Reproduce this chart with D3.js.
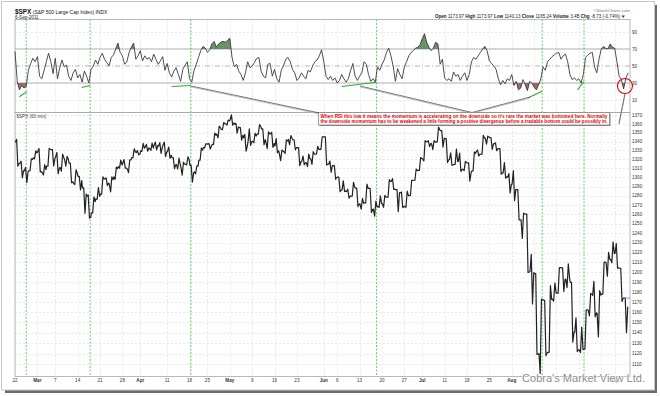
<!DOCTYPE html>
<html>
<head>
<meta charset="utf-8">
<script src="https://cdnjs.cloudflare.com/ajax/libs/d3/7.8.5/d3.min.js"></script>
<style>
body { margin: 0; background: #fff; }
svg { display: block; font-family: "Liberation Sans", Arial, sans-serif; }
</style>
</head>
<body>
<svg id="chart" width="660" height="396"></svg>
<script>
// daily OHLC of $SPX, one entry per trading day from 22-Feb-2011 to 6-Sep-2011
var priceOpen = [1338.91, 1315.44, 1307.09, 1307.34, 1321.61, 1328.64, 1305.47, 1312.37, 1330.73, 1322.72,
    1311.05, 1319.92, 1315.72, 1293.43, 1301.19, 1288.46, 1279.46, 1261.61, 1276.71, 1281.65,
    1298.29, 1292.19, 1300.61, 1311.80, 1315.45, 1309.37, 1321.89, 1327.44, 1329.48, 1333.56,
    1332.03, 1335.94, 1334.82, 1336.16, 1329.01, 1321.96, 1314.03, 1311.13, 1314.54, 1313.35,
    1305.99, 1319.12, 1333.23, 1337.14, 1336.75, 1348.43, 1353.86, 1360.14, 1365.21, 1359.76,
    1355.90, 1344.16, 1340.24, 1340.20, 1348.34, 1354.51, 1339.39, 1348.69, 1334.77, 1326.10,
    1328.54, 1342.40, 1342.00, 1333.07, 1317.70, 1316.36, 1320.64, 1325.69, 1331.10, 1345.20,
    1314.55, 1312.94, 1300.26, 1286.31, 1284.63, 1279.63, 1288.26, 1271.31, 1272.22, 1287.87,
    1265.53, 1268.58, 1271.50, 1278.40, 1295.48, 1286.60, 1283.04, 1268.44, 1280.21, 1296.85,
    1307.64, 1320.64, 1339.59, 1337.56, 1339.62, 1352.39, 1343.31, 1319.61, 1314.45, 1317.74,
    1308.87, 1315.94, 1307.07, 1328.66, 1325.65, 1343.80, 1344.32, 1337.39, 1331.91, 1304.84,
    1300.12, 1292.59, 1286.56, 1254.25, 1260.23, 1200.28, 1198.48, 1120.23, 1171.77, 1121.30,
    1172.87, 1178.86, 1204.22, 1192.89, 1189.62, 1140.47, 1123.55, 1124.36, 1162.16, 1176.69,
    1158.85, 1177.91, 1209.76, 1213.00, 1219.12, 1203.90, 1173.97];
var priceHigh = [1342.50, 1317.91, 1310.91, 1320.61, 1329.38, 1332.09, 1314.19, 1332.28, 1331.08, 1327.68,
    1325.74, 1323.21, 1315.72, 1308.35, 1301.19, 1288.46, 1280.91, 1278.88, 1288.88, 1300.58,
    1299.35, 1300.51, 1311.34, 1319.18, 1319.74, 1319.45, 1331.74, 1329.77, 1337.85, 1336.74,
    1338.21, 1339.46, 1338.80, 1339.46, 1333.77, 1321.96, 1321.35, 1316.79, 1322.88, 1313.35,
    1312.70, 1332.66, 1337.49, 1337.55, 1349.55, 1357.49, 1361.71, 1364.56, 1370.58, 1360.84,
    1355.90, 1348.00, 1354.36, 1349.44, 1359.44, 1354.51, 1351.05, 1350.47, 1343.33, 1330.42,
    1341.82, 1346.82, 1342.00, 1333.07, 1323.72, 1325.86, 1328.51, 1334.62, 1345.20, 1345.20,
    1318.03, 1312.94, 1300.26, 1296.22, 1287.04, 1294.54, 1288.26, 1277.04, 1292.50, 1287.87,
    1274.11, 1279.82, 1280.42, 1297.62, 1298.61, 1286.60, 1283.93, 1284.91, 1296.80, 1309.21,
    1321.97, 1341.01, 1340.89, 1340.94, 1356.48, 1352.39, 1343.31, 1327.17, 1331.48, 1326.88,
    1317.70, 1315.94, 1328.14, 1330.43, 1347.00, 1346.10, 1344.32, 1338.51, 1331.91, 1316.32,
    1304.16, 1307.38, 1286.58, 1261.20, 1260.23, 1218.11, 1198.48, 1172.88, 1171.77, 1186.29,
    1189.04, 1204.49, 1204.22, 1208.47, 1189.62, 1154.54, 1145.49, 1162.35, 1178.56, 1190.68,
    1181.23, 1210.28, 1220.10, 1230.71, 1229.29, 1203.90, 1173.97];
var priceLow = [1312.33, 1299.55, 1294.26, 1307.34, 1320.55, 1306.14, 1302.58, 1312.37, 1312.59, 1303.99,
    1306.86, 1312.27, 1294.21, 1291.99, 1286.37, 1261.12, 1256.00, 1261.61, 1276.18, 1281.65,
    1291.01, 1284.05, 1297.74, 1310.15, 1310.19, 1305.26, 1321.89, 1325.03, 1328.89, 1329.10,
    1330.03, 1330.67, 1326.56, 1322.94, 1321.06, 1309.51, 1309.19, 1302.42, 1313.68, 1294.70,
    1303.97, 1319.12, 1332.76, 1331.47, 1336.75, 1344.25, 1353.60, 1358.69, 1358.59, 1349.52,
    1341.50, 1329.17, 1335.58, 1338.64, 1348.34, 1336.36, 1332.03, 1333.36, 1327.32, 1318.51,
    1326.59, 1336.36, 1330.67, 1312.88, 1313.87, 1311.80, 1314.41, 1325.69, 1331.10, 1313.71,
    1305.61, 1297.90, 1284.48, 1284.74, 1277.42, 1279.63, 1268.28, 1265.64, 1272.22, 1261.90,
    1258.07, 1267.40, 1267.56, 1278.40, 1286.79, 1262.87, 1267.24, 1267.53, 1280.21, 1296.85,
    1307.64, 1318.18, 1334.30, 1330.92, 1339.62, 1333.71, 1316.42, 1313.33, 1314.45, 1306.51,
    1307.52, 1295.92, 1307.07, 1323.65, 1325.65, 1336.95, 1331.09, 1329.59, 1303.49, 1299.16,
    1282.86, 1274.73, 1254.03, 1234.56, 1199.54, 1168.09, 1119.28, 1101.54, 1118.01, 1121.30,
    1170.74, 1178.86, 1180.53, 1184.36, 1131.03, 1122.05, 1121.09, 1124.36, 1156.30, 1155.47,
    1135.91, 1177.91, 1195.77, 1209.35, 1203.85, 1170.56, 1140.13];
var priceClose = [1315.44, 1307.40, 1306.10, 1319.88, 1327.22, 1306.33, 1308.44, 1330.97, 1321.15, 1310.13,
    1321.82, 1320.02, 1295.11, 1304.28, 1296.39, 1281.87, 1256.88, 1273.72, 1279.21, 1298.38,
    1293.77, 1297.54, 1309.66, 1313.80, 1310.19, 1319.44, 1328.26, 1325.83, 1332.41, 1332.87,
    1332.63, 1335.54, 1333.51, 1328.17, 1324.46, 1314.16, 1314.41, 1314.52, 1319.68, 1305.14,
    1312.62, 1330.36, 1337.38, 1335.25, 1347.24, 1355.66, 1360.48, 1363.61, 1361.22, 1356.62,
    1347.32, 1335.10, 1340.20, 1346.29, 1357.16, 1342.08, 1348.65, 1337.77, 1329.47, 1328.98,
    1340.68, 1343.60, 1333.27, 1317.37, 1316.28, 1320.47, 1325.69, 1331.10, 1345.20, 1314.55,
    1312.94, 1300.16, 1286.17, 1284.94, 1279.56, 1289.00, 1270.98, 1271.83, 1287.87, 1265.42,
    1267.64, 1271.50, 1278.36, 1295.52, 1287.14, 1283.50, 1268.45, 1280.10, 1296.67, 1307.41,
    1320.64, 1339.67, 1337.88, 1339.22, 1353.22, 1343.80, 1319.49, 1313.64, 1317.72, 1308.87,
    1316.14, 1305.44, 1326.73, 1325.84, 1343.80, 1345.02, 1337.43, 1331.94, 1304.89, 1300.67,
    1292.28, 1286.94, 1254.05, 1260.34, 1200.07, 1199.38, 1119.46, 1172.53, 1120.76, 1172.64,
    1178.81, 1204.49, 1192.76, 1193.89, 1140.65, 1123.53, 1123.82, 1162.35, 1177.60, 1159.27,
    1176.80, 1210.08, 1212.92, 1218.89, 1204.42, 1173.97, 1165.24];

// RSI(14), two readings per trading day
var rsiValues = [67, 32, 22, 27, 24, 26, 45, 53, 59, 55, 61, 38, 35, 45, 55, 65, 55, 41, 59, 35,
    48, 57, 49, 51, 38, 33, 42, 46, 36, 40, 31, 44, 38, 30, 46, 50, 57, 52, 60, 65,
    58, 54, 50, 60, 63, 70, 77, 66, 62, 52, 55, 66, 72, 77, 58, 62, 68, 56, 62, 58,
    60, 55, 64, 58, 52, 56, 61, 45, 53, 42, 37, 44, 48, 40, 32, 46, 51, 55, 35, 31,
    45, 52, 60, 68, 73, 71, 66, 69, 76, 79, 72, 76, 78, 79, 78, 80, 83, 60, 49, 52,
    44, 40, 33, 42, 55, 48, 50, 54, 59, 60, 44, 38, 36, 52, 53, 38, 46, 35, 31, 45,
    50, 58, 60, 55, 46, 42, 33, 36, 42, 38, 35, 45, 43, 50, 55, 57, 62, 69, 55, 38,
    34, 38, 33, 36, 30, 33, 40, 35, 31, 35, 45, 53, 38, 33, 38, 42, 55, 52, 40, 32,
    35, 31, 49, 45, 52, 57, 66, 71, 62, 50, 32, 47, 40, 35, 49, 55, 62, 66, 68, 71,
    72, 75, 82, 88, 78, 72, 68, 71, 78, 76, 52, 58, 36, 33, 35, 32, 43, 38, 40, 33,
    38, 42, 33, 40, 55, 60, 58, 62, 66, 70, 73, 68, 56, 53, 50, 46, 35, 28, 33, 29,
    35, 33, 40, 27, 32, 22, 24, 34, 28, 21, 32, 30, 25, 22, 28, 35, 49, 45, 55, 58,
    61, 63, 65, 66, 58, 62, 64, 55, 40, 34, 36, 33, 35, 30, 40, 60, 63, 65, 66, 49,
    42, 58, 70, 73, 71, 70, 76, 72, 71, 55, 38, 34, 23, 36, 42];

var holidays = ["2011-04-22", "2011-05-30", "2011-07-04", "2011-09-05"];

var tickDates = ["2011-02-22", "2011-03-01", "2011-03-07", "2011-03-14", "2011-03-21", "2011-03-28",
    "2011-04-01", "2011-04-11", "2011-04-18", "2011-04-25", "2011-05-02", "2011-05-09", "2011-05-16",
    "2011-05-23", "2011-06-01", "2011-06-06", "2011-06-13", "2011-06-20", "2011-06-27", "2011-07-01",
    "2011-07-11", "2011-07-18", "2011-07-25", "2011-08-01", "2011-08-08", "2011-08-15", "2011-08-22",
    "2011-08-29", "2011-09-01"];
// the August week labels sit under the watermark in the original, so they stay blank
var tickLabels = ["22", "Mar", "7", "14", "21", "28", "Apr", "11", "18", "25", "May", "9", "16", "23",
    "Jun", "6", "13", "20", "27", "Jul", "11", "18", "25", "Aug", "", "", "", "", "Sep"];

var priceTicks = d3.range(1110, 1371, 10);
var rsiTicks = [10, 30, 50, 70, 90];

// green dashed marker lines (trading-day index)
var markerDays = [2.5, 16.8, 39.3, 80.8, 117.8, 127.15];
// divergence segments drawn on the RSI panel: [day, rsi, day, rsi]
var divergences = [[0.97, 13.9, 2.61, 19.8], [14.9, 24.6, 16.76, 27.1], [35.0, 25.8, 39.26, 27.1],
    [73.0, 25.8, 80.8, 30.8], [114.7, 12.6, 117.8, 20.4], [125.7, 21.8, 127.1, 31.6]];

var noteLines = ["When RSI this low it means the momentum is accelerating on the downside so it's rare the market was bottomed here. Normally",
    "the downside momentum has to be weakened a little forming a positive divergence before a tradable bottom could be possibly in."];

var quote = [["Open", "1173.97"], ["High", "1173.97"], ["Low", "1140.13"], ["Close", "1165.24"],
    ["Volume", "3.4B"], ["Chg", "-8.73 (-0.74%)"]];

// ------------------------------------------------------------------

var fmt = d3.timeFormat("%Y-%m-%d");
var days = d3.timeDay.range(new Date(2011, 1, 22), new Date(2011, 8, 7))
    .filter(function (d) { return d.getDay() % 6 !== 0 && holidays.indexOf(fmt(d)) < 0; });
var dayIndex = {};
days.forEach(function (d, i) { dayIndex[fmt(d)] = i; });

var left = 15, right = 630;
var rsiTop = 19.5, rsiBottom = 112.5, priceTop = 112.5, priceBottom = 376.5;

var x = d3.scaleLinear().domain([0, days.length]).range([left, 628.1]);
var yR = d3.scaleLinear().domain([0, 100]).range([108.5, 23.5]);
var yP = d3.scaleLog().domain([1110, 1360]).range([364.3, 124]);

var svg = d3.select("#chart");

// frame with drop shadow
svg.append("rect").attr("x", 5).attr("y", 5).attr("width", 652).attr("height", 388).attr("fill", "#6a6a6a");
svg.append("rect").attr("x", 1.5).attr("y", 1.5).attr("width", 653).attr("height", 388.5)
    .attr("fill", "#fff").attr("stroke", "#c8c8c8");

// vertical grid
var grid = svg.append("g").attr("stroke", "#d9d9d9").attr("stroke-width", 0.6).attr("stroke-dasharray", "2,2");
tickDates.forEach(function (t) {
    var xx = Math.round(x(dayIndex[t])) + 0.5;
    grid.append("line").attr("x1", xx).attr("x2", xx).attr("y1", rsiTop).attr("y2", priceBottom);
});
priceTicks.forEach(function (p) {
    var yy = Math.round(yP(p)) + 0.5;
    grid.append("line").attr("x1", left).attr("x2", right).attr("y1", yy).attr("y2", yy);
});
[10, 90].forEach(function (v) {
    var yy = Math.round(yR(v)) + 0.5;
    grid.append("line").attr("x1", left).attr("x2", right).attr("y1", yy).attr("y2", yy);
});

// RSI reference lines
[30, 70].forEach(function (v) {
    svg.append("line").attr("x1", left).attr("x2", right).attr("y1", yR(v)).attr("y2", yR(v))
        .attr("stroke", "#9a9a9a").attr("stroke-width", 0.8);
});
svg.append("line").attr("x1", left).attr("x2", right).attr("y1", yR(50)).attr("y2", yR(50))
    .attr("stroke", "#9a9a9a").attr("stroke-width", 0.7).attr("stroke-dasharray", "5,2,1,2");

// green marker lines
markerDays.forEach(function (d) {
    svg.append("line").attr("x1", x(d)).attr("x2", x(d)).attr("y1", rsiTop).attr("y2", priceBottom)
        .attr("stroke", "#3fbf3f").attr("stroke-width", 0.8).attr("stroke-dasharray", "2,1.5");
});

// panel borders
svg.append("rect").attr("x", left).attr("y", rsiTop).attr("width", right - left).attr("height", rsiBottom - rsiTop)
    .attr("fill", "none").attr("stroke", "#a8a8a8").attr("stroke-width", 0.8);
svg.append("rect").attr("x", left).attr("y", priceTop).attr("width", right - left).attr("height", priceBottom - priceTop)
    .attr("fill", "none").attr("stroke", "#a8a8a8").attr("stroke-width", 0.8);

// RSI line with overbought / oversold fills
var rsiPts = rsiValues.map(function (v, k) { return [k * 0.5, v]; });
var defs = svg.append("defs");
defs.append("clipPath").attr("id", "above70").append("rect")
    .attr("x", left).attr("y", rsiTop).attr("width", right - left).attr("height", yR(70) - rsiTop);
defs.append("clipPath").attr("id", "below30").append("rect")
    .attr("x", left).attr("y", yR(30)).attr("width", right - left).attr("height", rsiBottom - yR(30));

svg.append("path").datum(rsiPts).attr("clip-path", "url(#above70)")
    .attr("fill", "#4f7f4f").attr("fill-opacity", 0.85)
    .attr("d", d3.area().x(function (p) { return x(p[0]); }).y0(yR(70)).y1(function (p) { return yR(p[1]); }));
svg.append("path").datum(rsiPts).attr("clip-path", "url(#below30)")
    .attr("fill", "#8f4f4f").attr("fill-opacity", 0.85)
    .attr("d", d3.area().x(function (p) { return x(p[0]); }).y0(yR(30)).y1(function (p) { return yR(p[1]); }));
svg.append("path").datum(rsiPts).attr("fill", "none").attr("stroke", "#3a3a3a").attr("stroke-width", 0.9)
    .attr("d", d3.line().x(function (p) { return x(p[0]); }).y(function (p) { return yR(p[1]); }));

// price path: open, first extreme, second extreme, close for every day
var pricePts = [];
var offs = [0.08, 0.36, 0.64, 0.92];
days.forEach(function (d, i) {
    var up = priceClose[i] >= priceOpen[i];
    var seq = up ? [priceOpen[i], priceLow[i], priceHigh[i], priceClose[i]]
                 : [priceOpen[i], priceHigh[i], priceLow[i], priceClose[i]];
    seq.forEach(function (v, j) { pricePts.push([i + offs[j], v]); });
});
svg.append("path").datum(pricePts).attr("fill", "none").attr("stroke", "#222").attr("stroke-width", 1.2)
    .attr("stroke-linejoin", "round")
    .attr("d", d3.line().x(function (p) { return x(p[0]); }).y(function (p) { return yP(p[1]); }));

// previous close marker
svg.append("line").attr("x1", x(135.4)).attr("x2", right).attr("y1", yP(priceClose[135])).attr("y2", yP(priceClose[135]))
    .attr("stroke", "#6b6bff").attr("stroke-width", 0.8);

// right axis labels
var axisText = svg.append("g").style("font-size", "4.6px").attr("fill", "#333");
priceTicks.forEach(function (p) {
    axisText.append("text").attr("x", 632).attr("y", yP(p)).attr("dy", "0.35em").text(p);
});
rsiTicks.forEach(function (v) {
    axisText.append("text").attr("x", 632).attr("y", yR(v)).attr("dy", "0.35em").text(v);
});

// bottom axis labels
tickDates.forEach(function (t, k) {
    if (!tickLabels[k]) return;
    var isMonth = isNaN(+tickLabels[k]);
    svg.append("text").attr("x", x(dayIndex[t])).attr("y", 382.3).attr("text-anchor", "middle")
        .style("font-size", "4.6px").style("font-weight", isMonth ? "bold" : "normal").attr("fill", "#333")
        .text(tickLabels[k]);
});

// divergence lines
divergences.forEach(function (s) {
    svg.append("line").attr("x1", x(s[0])).attr("y1", yR(s[1])).attr("x2", x(s[2])).attr("y2", yR(s[3]))
        .attr("stroke", "#2ea82e").attr("stroke-width", 1.1);
});

// note box and pointers
var box = {x: 318.5, y: 112.5, w: 291, h: 12.5};
var pointers = [
    [[x(39.3), yR(26.5)], [box.x + 1, box.y + 0.5]],
    [[x(77.1), yR(26.5)], [472, box.y]],
    [[x(115.1), yR(13.5)], [472, box.y]],
    [[x(136.3), yR(17.5)], [619, 123.5]]
];
pointers.forEach(function (p) {
    svg.append("line").attr("x1", p[0][0]).attr("y1", p[0][1] + 1).attr("x2", p[1][0]).attr("y2", p[1][1] + 1)
        .attr("stroke", "#bdbdbd").attr("stroke-width", 0.9);
    svg.append("line").attr("x1", p[0][0]).attr("y1", p[0][1]).attr("x2", p[1][0]).attr("y2", p[1][1])
        .attr("stroke", "#555").attr("stroke-width", 0.8);
});
svg.append("rect").attr("x", box.x + 1).attr("y", box.y + 1).attr("width", box.w).attr("height", box.h).attr("fill", "#888");
svg.append("rect").attr("x", box.x).attr("y", box.y).attr("width", box.w).attr("height", box.h)
    .attr("fill", "#fff").attr("stroke", "#777").attr("stroke-width", 0.7);
noteLines.forEach(function (s, k) {
    svg.append("text").attr("x", box.x + 2).attr("y", box.y + 5 + k * 5)
        .attr("textLength", box.w - 4).attr("lengthAdjust", "spacingAndGlyphs")
        .style("font-size", "5.2px").style("font-weight", "bold").attr("fill", "#e00000").text(s);
});

// red circle on the last RSI low
svg.append("circle").attr("cx", x(136.3)).attr("cy", yR(26.5)).attr("r", 7.5)
    .attr("fill", "none").attr("stroke", "#e00000").attr("stroke-width", 1.1);

// panel label
svg.append("text").attr("x", 16.5).attr("y", 117.5).style("font-size", "4.6px").attr("fill", "#444").text("$SPX (60 min)");

// header
var title = svg.append("text").attr("x", 15).attr("y", 14).attr("fill", "#111");
title.append("tspan").style("font-size", "6.4px").style("font-weight", "bold").text("$SPX");
title.append("tspan").style("font-size", "5px").text(" (S&P 500 Large Cap Index) INDX");
svg.append("text").attr("x", 15).attr("y", 18.8).style("font-size", "4.6px").attr("fill", "#222").text("6-Sep-2011");
svg.append("text").attr("x", 630).attr("y", 12).attr("text-anchor", "end").style("font-size", "4.4px")
    .attr("fill", "#777").text("\u00a9StockCharts.com");
var q = svg.append("text").attr("x", 435).attr("y", 17.6).style("font-size", "4.8px").attr("fill", "#222")
    .attr("textLength", 185).attr("lengthAdjust", "spacingAndGlyphs");
quote.forEach(function (pair, k) {
    q.append("tspan").style("font-weight", "bold").text((k ? "  " : "") + pair[0] + " ");
    q.append("tspan").text(pair[1]);
});
svg.append("path").attr("d", "M621.5,15.6 L625,15.6 L623.25,18 Z").attr("fill", "#d00");

// watermark
svg.append("text").attr("x", 522).attr("y", 382).attr("textLength", 123).attr("lengthAdjust", "spacingAndGlyphs")
    .style("font-size", "11px").attr("fill", "#8e8e8e").attr("stroke", "#fff").attr("stroke-width", 1.2)
    .style("paint-order", "stroke").text("Cobra's Market View Ltd.");
</script>
</body>
</html>
